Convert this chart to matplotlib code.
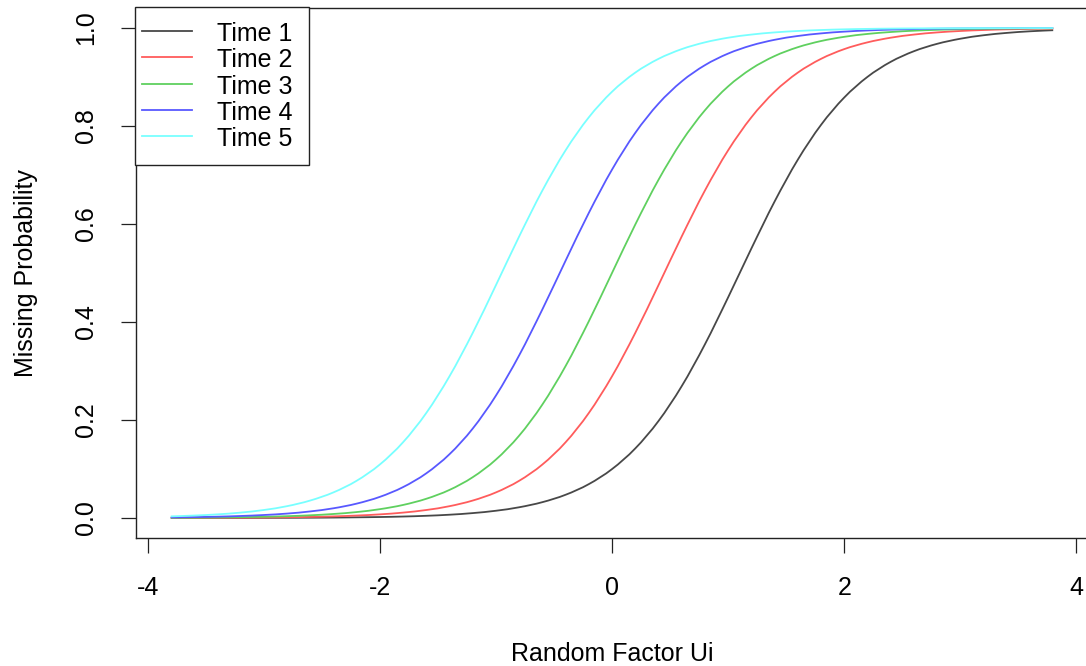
import matplotlib
matplotlib.use("Agg")
import matplotlib.pyplot as plt
from matplotlib.path import Path
from matplotlib.patches import PathPatch, Rectangle
from matplotlib.lines import Line2D
import numpy as np

plt.rcParams['font.family'] = ['Liberation Sans', 'DejaVu Sans']

# Random factor grid (Ui) shared by all curves
u_values = [-3.8, -3.6, -3.4, -3.2, -3.0, -2.8, -2.6, -2.4, -2.2, -2.0,
            -1.8, -1.6, -1.4, -1.2, -1.0, -0.8, -0.6, -0.4, -0.2, 0.0,
            0.2, 0.4, 0.6, 0.8, 1.0, 1.2, 1.4, 1.6, 1.8, 2.0,
            2.2, 2.4, 2.6, 2.8, 3.0, 3.2, 3.4, 3.6, 3.8]

# Missing probability at each time point
time1 = [0.0001, 0.0001, 0.0001, 0.0002, 0.0003, 0.0004, 0.0006, 0.0009, 0.0014, 0.0020,
         0.0030, 0.0045, 0.0067, 0.0100, 0.0148, 0.0219, 0.0323, 0.0474, 0.0691, 0.0998,
         0.1419, 0.1978, 0.2689, 0.3543, 0.4502, 0.5498, 0.6457, 0.7311, 0.8022, 0.8581,
         0.9002, 0.9309, 0.9526, 0.9677, 0.9781, 0.9852, 0.9900, 0.9933, 0.9955]
time2 = [0.0002, 0.0003, 0.0005, 0.0007, 0.0010, 0.0015, 0.0022, 0.0033, 0.0050, 0.0074,
         0.0110, 0.0163, 0.0241, 0.0356, 0.0522, 0.0759, 0.1091, 0.1545, 0.2142, 0.2891,
         0.3775, 0.4750, 0.5744, 0.6682, 0.7503, 0.8176, 0.8699, 0.9089, 0.9370, 0.9569,
         0.9707, 0.9802, 0.9866, 0.9910, 0.9939, 0.9959, 0.9973, 0.9982, 0.9988]
time3 = [0.0005, 0.0007, 0.0011, 0.0017, 0.0025, 0.0037, 0.0055, 0.0082, 0.0121, 0.0180,
         0.0266, 0.0392, 0.0573, 0.0832, 0.1192, 0.1680, 0.2315, 0.3100, 0.4013, 0.5000,
         0.5987, 0.6900, 0.7685, 0.8320, 0.8808, 0.9168, 0.9427, 0.9608, 0.9734, 0.9820,
         0.9879, 0.9918, 0.9945, 0.9963, 0.9975, 0.9983, 0.9989, 0.9993, 0.9995]
time4 = [0.0012, 0.0018, 0.0027, 0.0041, 0.0061, 0.0090, 0.0134, 0.0198, 0.0293, 0.0431,
         0.0630, 0.0911, 0.1301, 0.1824, 0.2497, 0.3318, 0.4256, 0.5250, 0.6225, 0.7109,
         0.7858, 0.8455, 0.8909, 0.9241, 0.9478, 0.9644, 0.9759, 0.9837, 0.9890, 0.9926,
         0.9950, 0.9967, 0.9978, 0.9985, 0.9990, 0.9993, 0.9995, 0.9997, 0.9998]
time5 = [0.0033, 0.0050, 0.0074, 0.0110, 0.0163, 0.0241, 0.0356, 0.0522, 0.0759, 0.1091,
         0.1545, 0.2142, 0.2891, 0.3775, 0.4750, 0.5744, 0.6682, 0.7503, 0.8176, 0.8699,
         0.9089, 0.9370, 0.9569, 0.9707, 0.9802, 0.9866, 0.9910, 0.9939, 0.9959, 0.9973,
         0.9982, 0.9988, 0.9992, 0.9994, 0.9996, 0.9998, 0.9998, 0.9999, 0.9999]

series_labels = ["Time 1", "Time 2", "Time 3", "Time 4", "Time 5"]
x_ticks = [-4, -2, 0, 2, 4]
x_tick_labels = ["-4", "-2", "0", "2", "4"]
y_ticks = [0.0, 0.2, 0.4, 0.6, 0.8, 1.0]
y_tick_labels = ["0.0", "0.2", "0.4", "0.6", "0.8", "1.0"]

colors = ["#484848", "#ff5c5c", "#5fd05f", "#5858ff", "#78ffff"]
LW = 1.3


def smooth_path(xs, ys):
    """Cubic Bezier path (Catmull-Rom) passing through every given point."""
    pts = np.column_stack([xs, ys]).astype(float)
    n = len(pts)
    verts = [pts[0]]
    codes = [Path.MOVETO]
    for i in range(n - 1):
        p0 = pts[i - 1] if i > 0 else pts[i]
        p1, p2 = pts[i], pts[i + 1]
        p3 = pts[i + 2] if i + 2 < n else pts[i + 1]
        verts += [p1 + (p2 - p0) / 6.0, p2 - (p3 - p1) / 6.0, p2]
        codes += [Path.CURVE4] * 3
    return Path(verts, codes)


fig = plt.figure(figsize=(10.86, 6.66), dpi=100)
ax = fig.add_axes([0.12477, 0.19279, 0.87753, 0.79459])

handles = []
for ys, lab, col in zip([time1, time2, time3, time4, time5], series_labels, colors):
    ax.add_patch(PathPatch(smooth_path(u_values, ys), fill=False,
                           edgecolor=col, lw=LW, zorder=2))
    handles.append(Line2D([], [], color=col, lw=LW))

ax.set_xlim(-4.104, 4.104)
ax.set_ylim(-0.04, 1.04)

ax.set_xticks(x_ticks)
ax.set_xticklabels(x_tick_labels)
ax.set_yticks(y_ticks)
ax.set_yticklabels(y_tick_labels)

ax.tick_params(axis='both', direction='out', length=11, width=0.9,
               labelsize=18, colors='#222222', labelcolor='black')
ax.tick_params(axis='x', pad=17)
ax.tick_params(axis='y', pad=16, labelrotation=90)
plt.setp(ax.get_yticklabels(), va='center')

for s in ax.spines.values():
    s.set_linewidth(1.0)
    s.set_color('#222222')

ax.set_xlabel("Random Factor Ui", fontsize=18)
ax.set_ylabel("Missing Probability", fontsize=18)
ax.xaxis.set_label_coords(0.5, -0.197)
ax.yaxis.set_label_coords(-0.1023, 0.5)

# Legend contents placed inside the top-left corner; the frame is drawn
# around them with R-like padding (narrow at the left, taller top/bottom).
W, H = 1086.0, 666.0
leg = ax.legend(handles, series_labels, loc='upper left',
                bbox_to_anchor=(142.0 / W, 1 - 21.0 / H),
                bbox_transform=fig.transFigure, borderaxespad=0.0,
                fontsize=18, frameon=False, handlelength=2.0,
                handletextpad=1.0, labelspacing=0.05, handleheight=1.04,
                borderpad=0.0)
leg.set_zorder(5)

fig.canvas.draw()
ext = leg.get_window_extent()
pad_l, pad_r, pad_v = 7.0, 16.0, 14.0
frame = Rectangle(((ext.x0 - pad_l) / W, (ext.y0 - pad_v) / H),
                  (ext.width + pad_l + pad_r) / W, (ext.height + 2 * pad_v) / H,
                  transform=fig.transFigure, facecolor='white',
                  edgecolor='#222222', lw=1.0, zorder=4.5, clip_on=False)
ax.add_patch(frame)

fig.savefig("out.png", dpi=100)
